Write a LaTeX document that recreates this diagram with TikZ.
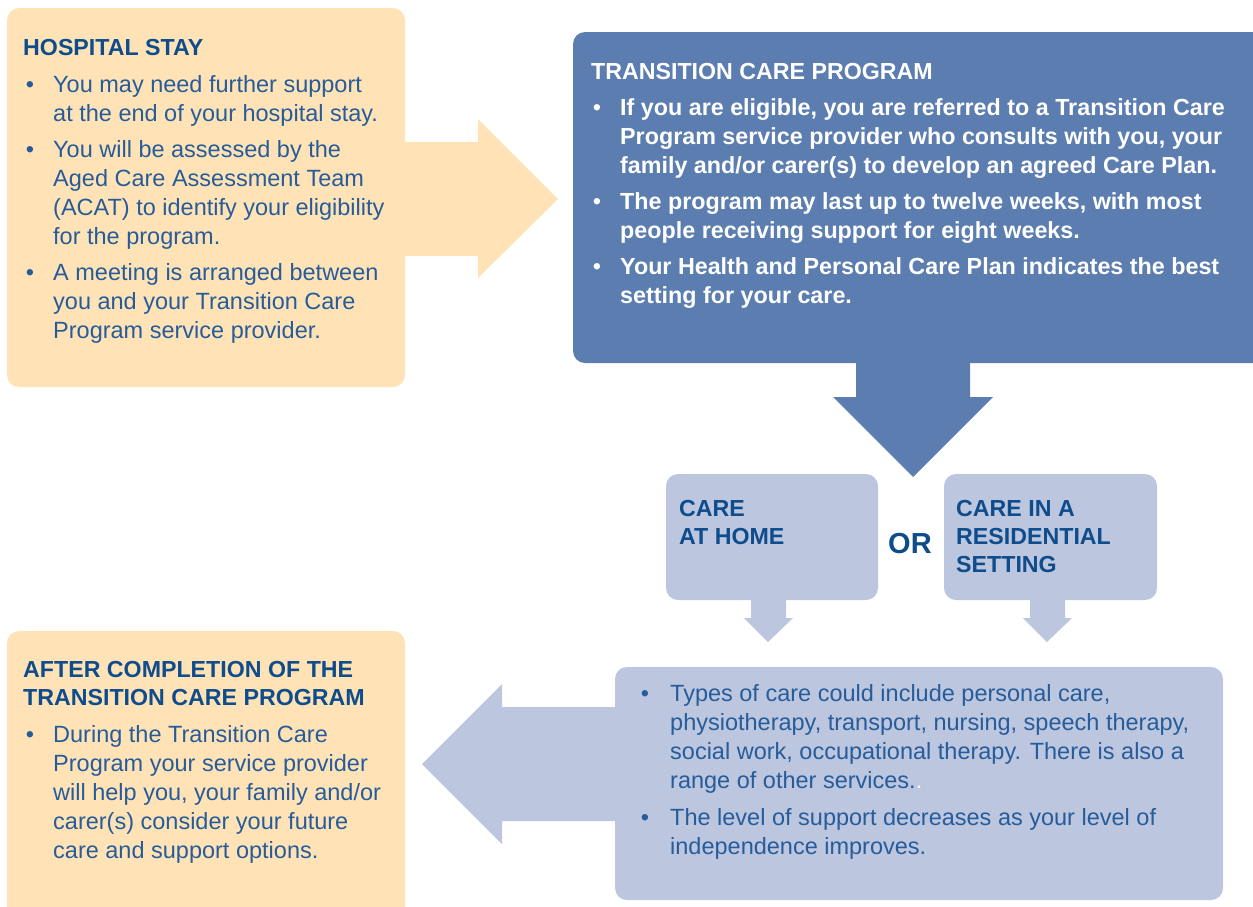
\documentclass[tikz,border=0pt]{standalone}
\usepackage{fontspec}
\setmainfont{Liberation Sans}
\definecolor{peach}{RGB}{255,227,182}
\definecolor{boxblue}{RGB}{91,125,176}
\definecolor{lightblue}{RGB}{188,198,223}
\definecolor{headblue}{RGB}{14,76,140}
\definecolor{bodyblue}{RGB}{38,92,154}
\tikzset{
  bodytxt/.style={anchor=north west, inner sep=0pt, align=left, text=bodyblue,
    font=\fontsize{23.5}{29}\selectfont},
  whitetxt/.style={bodytxt, text=white, font=\fontsize{23.3}{29}\selectfont\bfseries},
  headtxt/.style={anchor=north west, inner sep=0pt, align=left, text=headblue,
    font=\fontsize{23.2}{28}\selectfont\bfseries},
  singlehead/.style={anchor=base west, inner sep=0pt, text=headblue,
    font=\fontsize{23.2}{28}\selectfont\bfseries},
  bulletdot/.style={anchor=base, inner sep=0pt, text=bodyblue,
    font=\fontsize{23.5}{29}\selectfont},
  panel/.style={rounded corners=12pt},
}
\begin{document}
\begin{tikzpicture}[x=1pt,y=-1pt]
\useasboundingbox (0,0) rectangle (1253,906);
\clip (0,0) rectangle (1253,906);

% shapes
\fill[peach, panel] (7,8) rectangle (405,387);
\fill[peach] (404,142) -- (478,142) -- (478,119) -- (558,199) -- (478,278) -- (478,256) -- (404,256) -- cycle;
\fill[boxblue, panel] (573,32) rectangle (1275,363);
\fill[boxblue] (856,362) -- (856,397) -- (833,397) -- (913,477) -- (993,397) -- (970,397) -- (970,362) -- cycle;
\fill[lightblue, panel] (666,474) rectangle (878,600);
\fill[lightblue, panel] (944,474) rectangle (1157,600);
\fill[lightblue] (751,599) -- (751,618) -- (744,618) -- (768,642) -- (793,618) -- (786,618) -- (786,599) -- cycle;
\fill[lightblue] (1030,599) -- (1030,618) -- (1023,618) -- (1047,642) -- (1072,618) -- (1065,618) -- (1065,599) -- cycle;
\fill[peach, panel] (7,631) rectangle (405,930);
\fill[lightblue, panel] (615,667) rectangle (1223,900);
\fill[lightblue] (616,707) -- (502,707) -- (502,684) -- (422,764) -- (502,844) -- (502,821) -- (616,821) -- cycle;

% hospital stay
\node[singlehead] (hsh) at (23,55) {HOSPITAL STAY};
\node[bulletdot] (hb1) at (30,92) {•};
\node[bodytxt] (ht1) at (53,71.7) {\strut You may need further support\\at the end of your hospital stay.};
\node[bulletdot] (hb2) at (30,157) {•};
\node[bodytxt] (ht2) at (53,136.7) {\strut You will be assessed by the\\Aged Care Assessment Team\\(ACAT) to identify your eligibility\\for the program.};
\node[bulletdot] (hb3) at (30,280) {•};
\node[bodytxt] (ht3) at (53,259.7) {\strut A meeting is arranged between\\you and your Transition Care\\Program service provider.};

% transition care program
\node[singlehead, text=white] (tch) at (591,79) {TRANSITION CARE PROGRAM};
\node[bulletdot, text=white] (tb1) at (597,115) {•};
\node[whitetxt] (tt1) at (620,94.7) {\strut If you are eligible, you are referred to a Transition Care\\Program service provider who consults with you, your\\family and/or carer(s) to develop an agreed Care Plan.};
\node[bulletdot, text=white] (tb2) at (597,209) {•};
\node[whitetxt] (tt2) at (620,188.7) {\strut The program may last up to twelve weeks, with most\\people receiving support for eight weeks.};
\node[bulletdot, text=white] (tb3) at (597,274) {•};
\node[whitetxt] (tt3) at (620,253.7) {\strut Your Health and Personal Care Plan indicates the best\\setting for your care.};

% care options
\node[headtxt] (home) at (679,496.4) {\strut CARE\\AT HOME};
\node[headtxt] (resi) at (956,496.4) {\strut CARE IN A\\RESIDENTIAL\\SETTING};
\node[anchor=base west, inner sep=0pt, text=headblue, font=\fontsize{29}{32}\selectfont\bfseries] (or) at (888,553) {OR};

% after completion
\node[headtxt] (ach) at (23,657.4) {\strut AFTER COMPLETION OF THE\\TRANSITION CARE PROGRAM};
\node[bulletdot] (ab1) at (30,742) {•};
\node[bodytxt] (at1) at (53,721.7) {\strut During the Transition Care\\Program your service provider\\will help you, your family and/or\\carer(s) consider your future\\care and support options.};

% types of care
\node[bulletdot] (cb1) at (645,701) {•};
\node[bodytxt] (ct1) at (670,680.7) {\strut Types of care could include personal care,\\physiotherapy, transport, nursing, speech therapy,\\social work, occupational therapy. There is also a\\range of other services.\textcolor{white!85!lightblue}{.}};
\node[bulletdot] (cb2) at (645,825) {•};
\node[bodytxt] (ct2) at (670,804.7) {\strut The level of support decreases as your level of\\independence improves.};
\end{tikzpicture}
\end{document}
